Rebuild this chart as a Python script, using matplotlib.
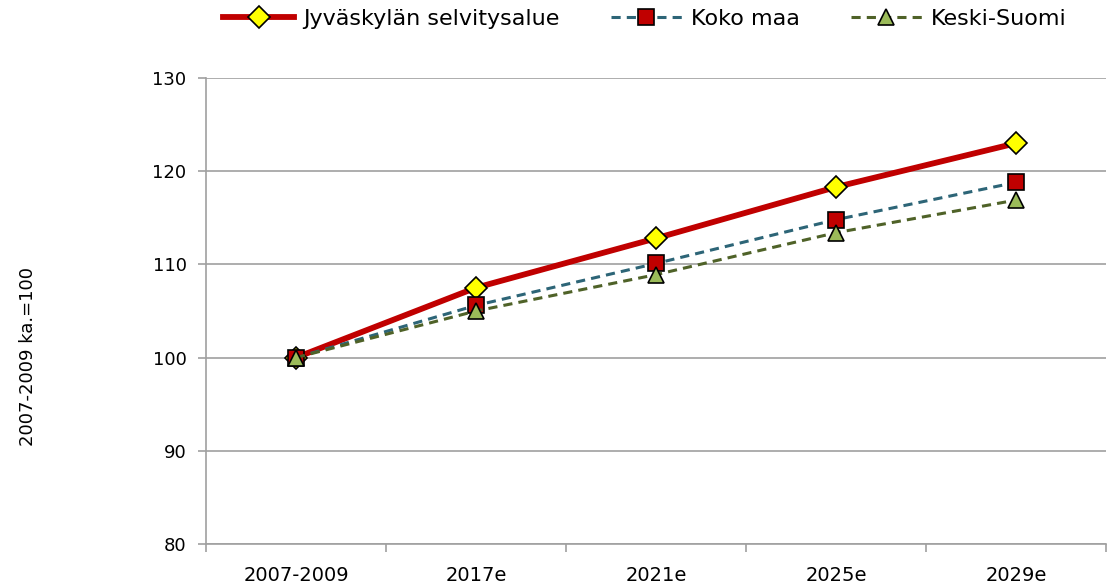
import matplotlib.pyplot as plt
from matplotlib.ticker import FixedLocator

categories = ['2007-2009', '2017e', '2021e', '2025e', '2029e']
jyvaskyla = [100, 107.5, 112.8, 118.3, 123.0]
koko_maa = [100, 105.6, 110.1, 114.8, 118.8]
keski_suomi = [100, 105.0, 108.9, 113.4, 116.9]

plt.rcParams['font.family'] = ['DejaVu Sans']

fig = plt.figure(figsize=(11.08, 5.88), dpi=100)
ax = fig.add_axes([206 / 1108, 1 - 544 / 588, 900 / 1108, (544 - 78) / 588])

x = list(range(len(categories)))
ax.plot(x, jyvaskyla, color='#C00000', lw=4.2, marker='D', ms=11, mfc='#FFFF00',
        mec='black', mew=1.2, label='Jyväskylän selvitysalue', zorder=3)
ax.plot(x, koko_maa, color='#2D6577', lw=2.2, ls=(0, (3, 2)), marker='s', ms=11,
        mfc='#C00000', mec='black', mew=1.2, label='Koko maa', zorder=4)
ax.plot(x, keski_suomi, color='#4F6228', lw=2.2, ls=(0, (3, 2)), marker='^', ms=12,
        mfc='#9BBB59', mec='black', mew=1.2, label='Keski-Suomi', zorder=5)

ax.set_xlim(-0.5, len(categories) - 0.5)
ax.set_ylim(80, 130)
ax.set_yticks(range(80, 131, 10))
ax.grid(axis='y', color='#A0A0A0', lw=1.2)
ax.set_axisbelow(True)

ax.set_xticks(x)
ax.set_xticklabels(categories, fontsize=14)
ax.tick_params(axis='x', which='major', length=0, pad=16)
ax.xaxis.set_minor_locator(FixedLocator([i + 0.5 for i in range(-1, len(categories))]))
ax.tick_params(axis='x', which='minor', length=6, color='#A0A0A0', width=1.2)
ax.tick_params(axis='y', length=6, color='#A0A0A0', width=1.2, labelsize=13, pad=8)

for s in ['top', 'right']:
    ax.spines[s].set_visible(False)
for s in ['left', 'bottom']:
    ax.spines[s].set_color('#A0A0A0')
    ax.spines[s].set_linewidth(1.2)

fig.text(28 / 1108, 1 - 356 / 588, '2007-2009 ka.=100', rotation=90,
         ha='center', va='center', fontsize=13)

fig.legend(loc='center', bbox_to_anchor=(645 / 1108, 1 - 19 / 588), ncol=3,
           frameon=False, fontsize=16, handlelength=3.2, columnspacing=2.3,
           handletextpad=0.4)

fig.savefig('out.png', dpi=100)
